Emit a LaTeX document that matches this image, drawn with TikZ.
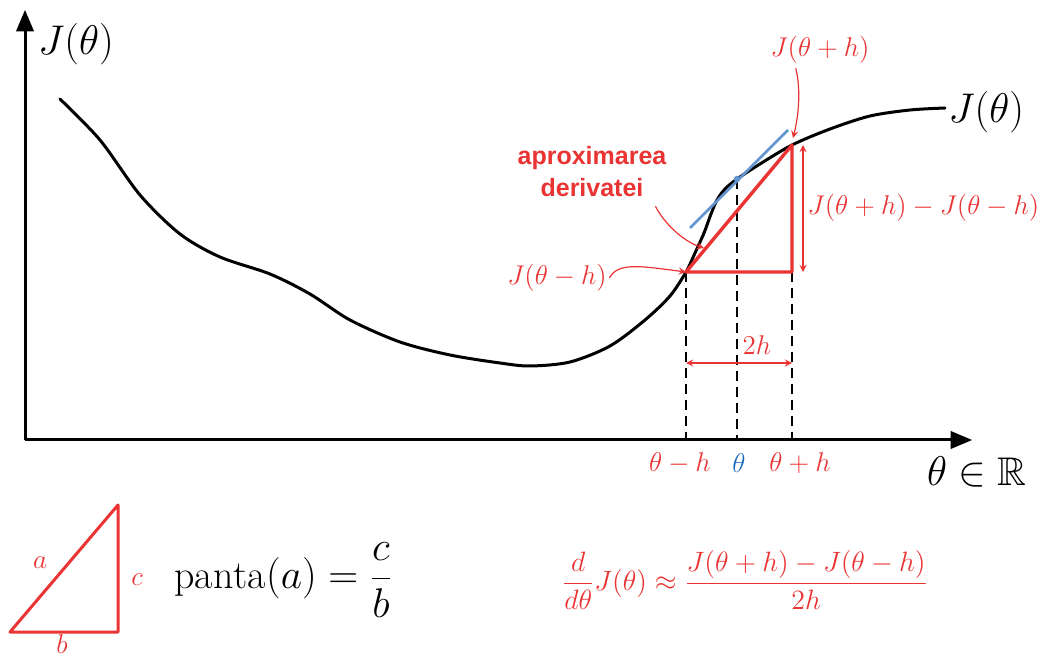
\documentclass[tikz,border=0pt]{standalone}
\usepackage{amsmath,amssymb}
\usepackage{fontspec}
\newfontfamily\notefont{Liberation Sans}
\usepackage{xcolor}
\usepackage{tikz}
\usetikzlibrary{shapes.geometric, arrows, positioning}
\definecolor{slopered}{RGB}{234,52,52}
\definecolor{tangblue}{RGB}{95,150,210}
\definecolor{thetablue}{RGB}{30,110,190}
\tikzstyle{arrow} = [line width=1.5pt,->,>=triangle 45]
\tikzstyle{note} = [slopered,line width=0.6pt,->,>=stealth]

\begin{document}
\begin{tikzpicture}[x=0.5pt, y=-0.5pt]
    \tikzstyle{curve} = [line width=1.5pt, line cap=round]
    \tikzstyle{guide} = [black, line width=0.6pt, dash pattern=on 5pt off 3pt]
    \tikzstyle{redlbl} = [text=slopered, font=\fontsize{12}{14}\selectfont, scale=1.13, inner sep=1pt]
    \tikzstyle{biglbl} = [font=\fontsize{20}{24}\selectfont, inner sep=1pt]
    \tikzstyle{trianglered} = [slopered, line width=1.7pt, line join=round]

    \useasboundingbox (0,0) rectangle (1041,658);

    % axes
    \coordinate (origin) at (25,440);
    \coordinate (ytip) at (25,10);
    \coordinate (xtip) at (972,440);
    \draw[arrow] (origin) -- (ytip);
    \draw[arrow] (origin) -- (xtip);
    \node[biglbl] (ylabel) at (76,44) {$J(\theta)$};
    \node[biglbl] (xlabel) at (977,472) {$\theta \in \mathbb{R}$};

    % points on the cost curve
    \coordinate (left) at (686,272);
    \coordinate (mid) at (737,179);
    \coordinate (right) at (792,145);
    \coordinate (corner) at (792,272);

    \draw[curve] plot[smooth, tension=0.5] coordinates {(60,99) (100,140) (140,195) (180,234) (220,257) (270,274) (310,294) (350,320) (400,342) (450,355) (500,363) (530,366) (570,362) (610,346) (645,320) (670,296) (686,272) (695,253) (704,233) (711,214) (717,200) (725,189) (737,179) (760,164) (792,145) (830,129) (870,116) (910,110) (945,108)};
    \node[biglbl, anchor=west] (curvelbl) at (946,112) {$J(\theta)$};

    % dashed guides
    \draw[guide] (left) -- (left |- origin);
    \draw[guide] (mid) -- (mid |- origin);
    \draw[guide] (corner) -- (corner |- origin);

    % secant triangle and tangent
    \draw[trianglered] (left) -- (right) -- (corner) -- cycle;
    \coordinate (tanA) at (690,228);
    \coordinate (tanB) at (788,130);
    \draw[tangblue, line width=1.3pt] (tanA) -- (tanB);
    \fill[tangblue] (mid) circle (1.6pt);

    % vertical difference
    \coordinate (dtop) at (803,145);
    \coordinate (dbot) at (803,272);
    \draw[note, <->] (dtop) -- (dbot);
    \node[redlbl, anchor=west] (difflbl) at (805,208) {$J(\theta+h)-J(\theta-h)$};

    % width 2h
    \coordinate (wleft) at (686,363);
    \coordinate (wright) at (792,363);
    \draw[note, <->] (wleft) -- (wright);
    \node[redlbl] (widthlbl) at (757,345) {$2h$};

    % tick labels
    \node[redlbl] (tminus) at (680,463) {$\theta-h$};
    \node[redlbl, text=thetablue] (tmid) at (739,463) {$\theta$};
    \node[redlbl] (tplus) at (800,463) {$\theta+h$};

    % annotations
    \node[redlbl] (jplus) at (820,50) {$J(\theta+h)$};
    \coordinate (plustip) at (793,138);
    \draw[note] (jplus.south west) ++(28,2) .. controls (800,85) and (800,110) .. (plustip);

    \node[redlbl] (jminus) at (557,278) {$J(\theta-h)$};
    \draw[note] (jminus.east) .. controls (618,262) and (640,266) .. (left);

    \node[text=slopered, font=\notefont\bfseries\fontsize{12.5}{16}\selectfont, align=center] (approx) at (592,172) {aproximarea\\derivatei};
    \coordinate (approxtip) at (704,248);
    \draw[note] (approx.south east) ++(-18,2) .. controls (665,225) and (685,242) .. (approxtip);

    % slope definition
    \coordinate (sa) at (10,632);
    \coordinate (sb) at (118,505);
    \coordinate (sc) at (118,632);
    \draw[trianglered, line width=1.5pt] (sa) -- (sb) -- (sc) -- cycle;
    \node[redlbl] (alabel) at (40,563) {$a$};
    \node[redlbl] (clabel) at (137,580) {$c$};
    \node[redlbl] (blabel) at (62,644) {$b$};
    \node[biglbl, anchor=west] (panta) at (172,580) {$\mathrm{panta}(a)=\dfrac{c}{b}$};

    % central difference
    \node[redlbl, font=\fontsize{14}{17}\selectfont, scale=0.86] (formula) at (745,580) {$\dfrac{d}{d\theta}J(\theta)\approx\dfrac{J(\theta+h)-J(\theta-h)}{2h}$};
\end{tikzpicture}
\end{document}
